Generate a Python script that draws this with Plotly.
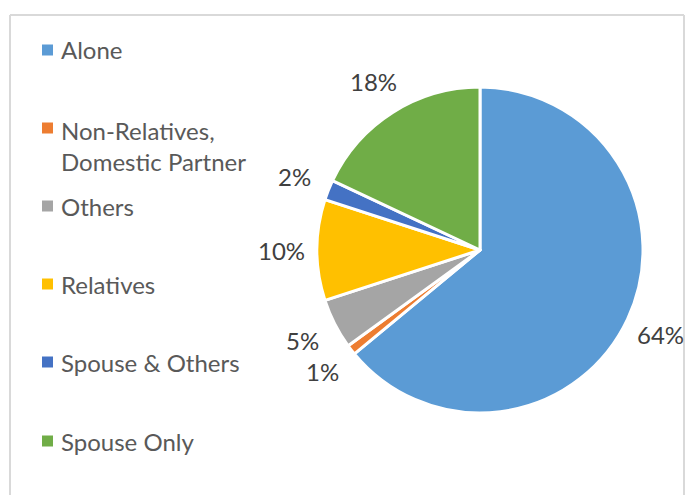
import math
import plotly.graph_objects as go

# Living arrangement shares (percent)
categories = ["Alone", "Non-Relatives,<br>Domestic Partner", "Others", "Relatives",
              "Spouse & Others", "Spouse Only"]
shares = [64, 1, 5, 10, 2, 18]
colors = ["#5B9BD5", "#ED7D31", "#A5A5A5", "#FFC000", "#4472C4", "#70AD47"]

W, H = 691, 495
FONT = "Lato"

# Pie geometry in pixels (centre and radius)
CX, CY, R = 480, 250, 163
LABEL_DIST = 199  # distance of percentage labels from the centre

fig = go.Figure(
    go.Pie(
        labels=categories,
        values=shares,
        sort=False,
        direction="clockwise",
        rotation=0,
        marker=dict(colors=colors, line=dict(color="white", width=3)),
        textinfo="none",
        showlegend=False,
        domain=dict(x=[(CX - R) / W, (CX + R) / W], y=[1 - (CY + R) / H, 1 - (CY - R) / H]),
        hoverinfo="label+percent",
    )
)

shapes = []
annotations = []

# Percentage labels placed radially outside each slice's mid-angle
total = sum(shares)
cum = 0
for v in shares:
    mid = (cum + v / 2) / total * 2 * math.pi
    cum += v
    x = CX + LABEL_DIST * math.sin(mid)
    y = CY - LABEL_DIST * math.cos(mid)
    annotations.append(dict(
        text=f"{round(v / total * 100)}%", xref="paper", yref="paper",
        x=x / W, y=1 - y / H, xanchor="center", yanchor="middle", showarrow=False,
        font=dict(family=FONT, size=24, color="#404040"),
    ))

# Legend drawn as marker squares plus text, one row per category
legend_rows_y = [50, 128, 206, 284, 362, 441]  # pixel rows from the top
for name, col, ypx in zip(categories, colors, legend_rows_y):
    yc = 1 - ypx / H
    shapes.append(dict(
        type="rect", xref="paper", yref="paper",
        x0=42 / W, x1=53 / W, y0=yc - 5.5 / H, y1=yc + 5.5 / H,
        fillcolor=col, line=dict(width=0),
    ))
    two_line = "<br>" in name
    annotations.append(dict(
        text=name, xref="paper", yref="paper", x=59 / W, y=yc,
        xanchor="left", yanchor="top" if two_line else "middle",
        yshift=14 if two_line else 0,
        align="left", showarrow=False,
        font=dict(family=FONT, size=24, color="#595959"),
    ))

# Chart-area frame (left, top, right edges)
frame = dict(xref="paper", yref="paper", type="line", line=dict(color="#D9D9D9", width=2))
shapes.append(dict(frame, x0=10 / W, x1=10 / W, y0=0, y1=1 - 15 / H))
shapes.append(dict(frame, x0=10 / W, x1=684 / W, y0=1 - 15 / H, y1=1 - 15 / H))
shapes.append(dict(frame, x0=684 / W, x1=684 / W, y0=0, y1=1 - 15 / H))

fig.update_layout(
    width=W, height=H,
    margin=dict(l=0, r=0, t=0, b=0),
    paper_bgcolor="white",
    plot_bgcolor="white",
    shapes=shapes,
    annotations=annotations,
)

fig.write_html("out.html")
